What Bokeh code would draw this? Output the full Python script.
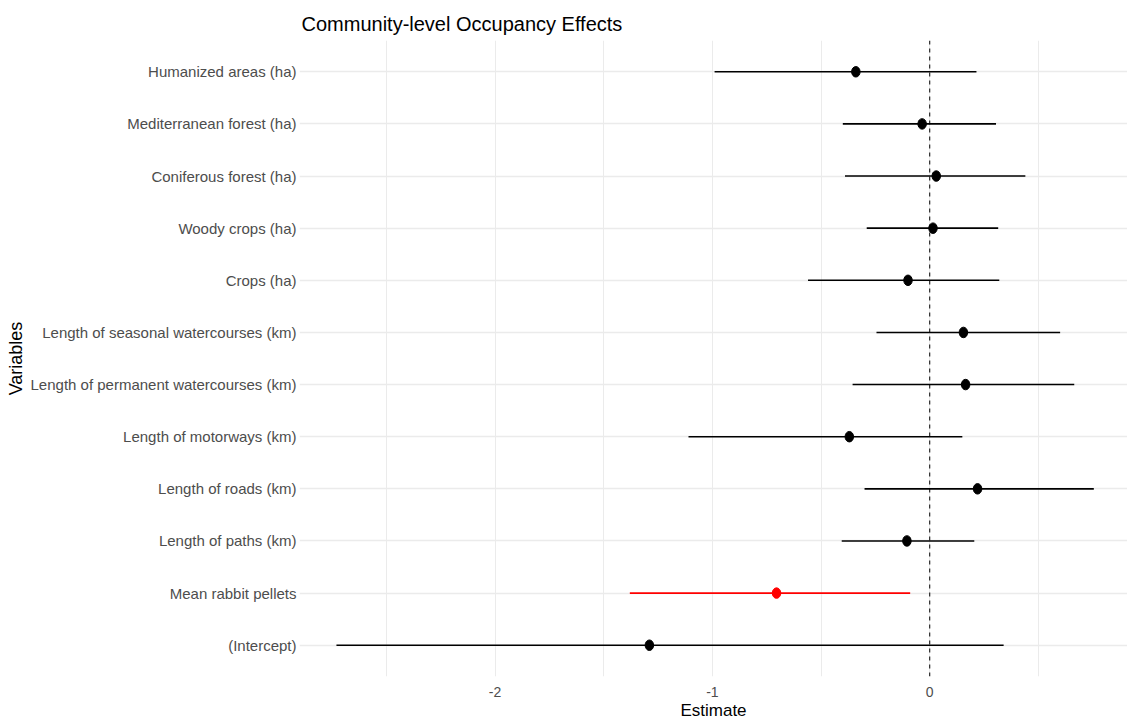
from bokeh.plotting import figure
from bokeh.models import FactorRange, Range1d, FixedTicker, Span, ColumnDataSource, PrintfTickFormatter
from bokeh.embed import file_html
from bokeh.resources import INLINE

variables = ["Humanized areas (ha)", "Mediterranean forest (ha)", "Coniferous forest (ha)",
             "Woody crops (ha)", "Crops (ha)", "Length of seasonal watercourses (km)",
             "Length of permanent watercourses (km)", "Length of motorways (km)",
             "Length of roads (km)", "Length of paths (km)", "Mean rabbit pellets", "(Intercept)"]
estimates = [-0.34, -0.035, 0.03, 0.015, -0.10, 0.155, 0.165, -0.37, 0.22, -0.105, -0.705, -1.29]
lower = [-0.99, -0.40, -0.39, -0.29, -0.56, -0.245, -0.355, -1.11, -0.30, -0.405, -1.38, -2.73]
upper = [0.215, 0.305, 0.44, 0.315, 0.32, 0.60, 0.665, 0.15, 0.755, 0.205, -0.09, 0.34]
significant = [False, False, False, False, False, False, False, False, False, False, True, False]
x_ticks = [-2, -1, 0]
x_minor = [-2.5, -1.5, -0.5, 0.5]

colors = ["#FF0000" if s else "#000000" for s in significant]
src = ColumnDataSource(dict(var=variables, est=estimates, lo=lower, hi=upper, color=colors))

FONT = "Liberation Sans"
yr = FactorRange(factors=variables[::-1], range_padding=0.1, range_padding_units="absolute")
p = figure(width=1127, height=726, y_range=yr, x_range=Range1d(-2.9, 0.91),
           output_backend="svg", toolbar_location=None,
           min_border_left=299, min_border_right=0, min_border_top=40, min_border_bottom=50,
           title="Community-level Occupancy Effects")
p.outline_line_color = None
p.background_fill_color = "white"
p.border_fill_color = "white"

p.title.text_font = FONT
p.title.text_font_size = "20px"
p.title.text_font_style = "normal"
p.title.text_color = "black"
p.title.offset = 2
p.title.standoff = 12

p.segment(x0="lo", y0="var", x1="hi", y1="var", line_color="color", line_width=1.6, source=src)
p.ellipse(x="est", y="var", width=8.5, height=10.5, width_units="screen", height_units="screen",
          fill_color="color", line_color="color", source=src)
p.add_layout(Span(location=0, dimension="height", line_color="black", line_dash="4 4", line_width=1))

p.xaxis.ticker = FixedTicker(ticks=x_ticks, minor_ticks=x_minor)
p.xaxis.formatter = PrintfTickFormatter(format="%d")
p.xgrid.grid_line_color = "#EBEBEB"
p.xgrid.minor_grid_line_color = "#EBEBEB"
p.xgrid.grid_line_width = 1
p.ygrid.grid_line_color = "#EBEBEB"
p.ygrid.grid_line_width = 1.3

for ax in (p.xaxis, p.yaxis):
    ax.axis_line_color = None
    ax.major_tick_line_color = None
    ax.minor_tick_line_color = None
    ax.major_tick_out = 0
    ax.major_tick_in = 0
    ax.minor_tick_out = 0
    ax.minor_tick_in = 0
    ax.major_label_text_font = FONT
    ax.major_label_text_color = "#4D4D4D"
    ax.axis_label_text_font = FONT
    ax.axis_label_text_font_style = "normal"
    ax.axis_label_text_color = "black"

p.xaxis.major_label_text_font_size = "14px"
p.yaxis.major_label_text_font_size = "15px"
p.xaxis.axis_label_text_font_size = "17px"
p.yaxis.axis_label_text_font_size = "18px"
p.xaxis.axis_label = "Estimate"
p.yaxis.axis_label = "Variables"
p.xaxis.major_label_standoff = 10
p.xaxis.axis_label_standoff = 1
p.yaxis.major_label_standoff = 3
p.yaxis.axis_label_standoff = 2

open("out.html", "w").write(file_html(p, INLINE))
